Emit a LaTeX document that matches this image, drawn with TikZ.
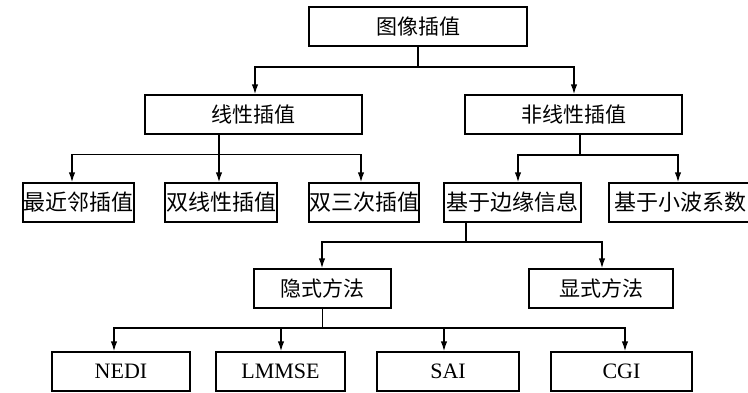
\documentclass[tikz,border=0pt]{standalone}
\usepackage{fontspec}
\setmainfont{Liberation Serif}
\newfontfamily\cjk{Noto Sans CJK SC}
\usetikzlibrary{arrows.meta}
\begin{document}
\begin{tikzpicture}[x=1pt,y=-1pt,
  box/.style={draw, line width=1.4pt, inner sep=0pt, minimum height=39pt,
    font=\cjk\fontsize{21}{21}\selectfont},
  tight/.style={font=\cjk\fontsize{22}{22}\selectfont},
  latin/.style={font=\fontsize{22}{22}\selectfont},
  conn/.style={line width=1.4pt},
  arr/.style={conn, -{Latex[length=10pt,width=6.5pt]}}]
\useasboundingbox (0,0) rectangle (748,392);
% level 1
\node[box, minimum width=218pt] (top) at (418,26.5) {图像插值};
% level 2
\node[box, minimum width=217pt] (lin) at (253.5,114.5) {线性插值};
\node[box, minimum width=217pt] (nonlin) at (573.5,114.5) {非线性插值};
% level 3
\node[box, tight, minimum width=111pt] (nn) at (78.5,202.5) {最近邻插值};
\node[box, tight, minimum width=112pt] (bil) at (221,202.5) {双线性插值};
\node[box, tight, minimum width=110pt] (bic) at (364,202.5) {双三次插值};
\node[box, tight, minimum width=137pt] (edge) at (512.5,202.5) {基于边缘信息};
\node[box, tight, minimum width=143pt] (wave) at (680.5,202.5) {基于小波系数};
% level 4
\node[box, minimum width=137pt] (impl) at (322.5,288.5) {隐式方法};
\node[box, minimum width=144pt] (expl) at (601,288.5) {显式方法};
% level 5
\node[box, latin, minimum width=138pt] (nedi) at (121,371.5) {NEDI};
\node[box, latin, minimum width=129pt] (lmmse) at (280.5,371.5) {LMMSE};
\node[box, latin, minimum width=142pt] (sai) at (448,371.5) {SAI};
\node[box, latin, minimum width=141pt] (cgi) at (621.5,371.5) {CGI};
% connectors
\draw[conn] (top.south) -- (top.south |- 0,67) coordinate (j1);
\draw[arr] (j1) -| ([xshift=1.5pt]lin.north);
\draw[arr] (j1) -| ([xshift=0.5pt]nonlin.north);

\draw[conn] ([xshift=-34.5pt]lin.south) -- ([xshift=-34.5pt]lin.south |- 0,154.5) coordinate (j2);
\draw[arr] (j2) -| ([xshift=-6.5pt]nn.north);
\draw[arr] (j2) -- ([xshift=-2pt]bil.north);
\draw[arr] (j2) -| ([xshift=-3pt]bic.north);

\draw[conn] ([xshift=6.5pt]nonlin.south) -- ([xshift=6.5pt]nonlin.south |- 0,155) coordinate (j3);
\draw[arr] (j3) -| ([xshift=5.5pt]edge.north);
\draw[arr] (j3) -| ([xshift=-2.5pt]wave.north);

\draw[conn] ([xshift=-46.5pt]edge.south) -- ([xshift=-46.5pt]edge.south |- 0,242) coordinate (j4);
\draw[arr] (j4) -| ([xshift=-0.5pt]impl.north);
\draw[arr] (j4) -| ([xshift=1pt]expl.north);

\draw[conn] (impl.south) -- (impl.south |- 0,328) coordinate (j5);
\draw[arr] (j5) -| ([xshift=-7pt]nedi.north);
\draw[arr] (j5) -| ([xshift=0.5pt]lmmse.north);
\draw[arr] (j5) -| ([xshift=-4pt]sai.north);
\draw[arr] (j5) -| ([xshift=3.5pt]cgi.north);
\end{tikzpicture}
\end{document}
